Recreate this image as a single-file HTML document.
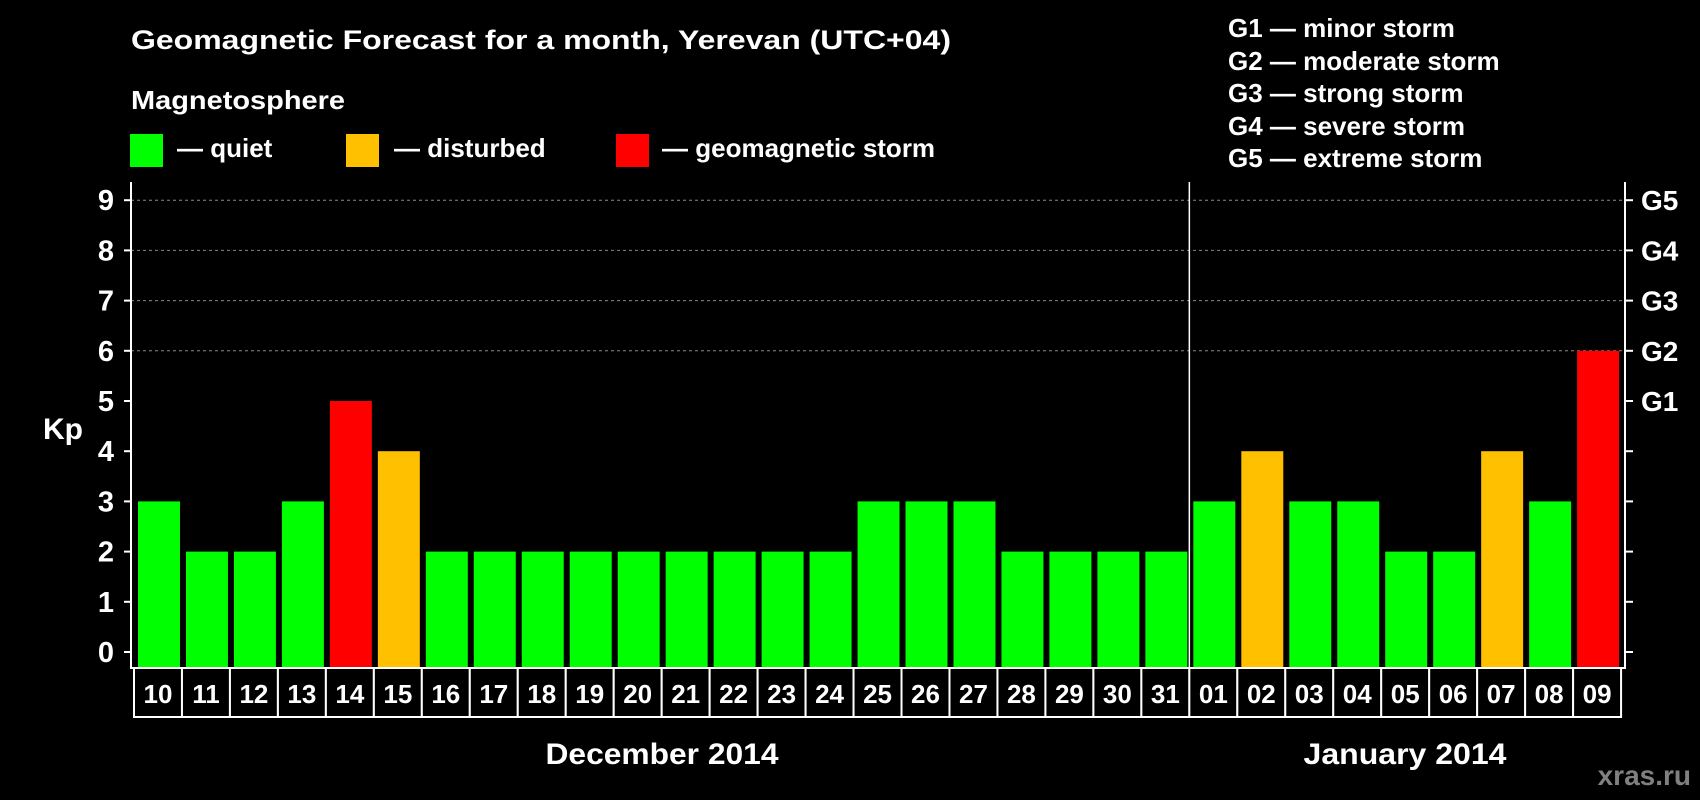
<!DOCTYPE html>
<html><head><meta charset="utf-8">
<style>
html,body{margin:0;padding:0;background:#000;}
svg{display:block;font-family:"Liberation Sans",Arial,sans-serif;font-weight:bold;}
</style></head>
<body>
<svg id="chart" width="1700" height="800" viewBox="0 0 1700 800">
<rect width="1700" height="800" fill="#000"/>
<text x="131" y="49" fill="#fff" font-size="27" textLength="820" lengthAdjust="spacingAndGlyphs">Geomagnetic Forecast for a month, Yerevan (UTC+04)</text>
<text x="131" y="109" fill="#fff" font-size="26" textLength="214" lengthAdjust="spacingAndGlyphs">Magnetosphere</text>
<g>
<rect x="130" y="134" width="33" height="33" fill="#00ff00"/>
<text x="177" y="157" fill="#fff" font-size="26">— quiet</text></g>
<g>
<rect x="346" y="134" width="33" height="33" fill="#ffc000"/>
<text x="394" y="157" fill="#fff" font-size="26">— disturbed</text></g>
<g>
<rect x="616" y="134" width="33" height="33" fill="#ff0000"/>
<text x="662" y="157" fill="#fff" font-size="26">— geomagnetic storm</text></g>
<g font-size="26" fill="#fff">
<text x="1228" y="37">G1 — minor storm</text>
<text x="1228" y="70">G2 — moderate storm</text>
<text x="1228" y="102">G3 — strong storm</text>
<text x="1228" y="135">G4 — severe storm</text>
<text x="1228" y="167">G5 — extreme storm</text>
</g>
<text x="43" y="439" fill="#fff" font-size="30">Kp</text>
<text x="662" y="764" fill="#fff" font-size="30" text-anchor="middle" textLength="233" lengthAdjust="spacingAndGlyphs">December 2014</text>
<text x="1405" y="764" fill="#fff" font-size="30" text-anchor="middle" textLength="203" lengthAdjust="spacingAndGlyphs">January 2014</text>
<text x="1691" y="785" fill="#808080" font-size="28" text-anchor="end">xras.ru</text>
<g id="plot"></g>
</svg>
<script>
const days = ["10","11","12","13","14","15","16","17","18","19","20","21","22","23","24","25","26","27","28","29","30","31","01","02","03","04","05","06","07","08","09"];
const kpValues = [3,2,2,3,5,4,2,2,2,2,2,2,2,2,2,3,3,3,2,2,2,2,3,4,3,3,2,2,4,3,6];
const yTicks = [0,1,2,3,4,5,6,7,8,9];
const gLabels = ["","","","","","G1","G2","G3","G4","G5"];
const monthBreakIndex = 22;

(function () {
const NS = "http://www.w3.org/2000/svg";
const plotG = document.getElementById("plot");
const pL = 131, pR = 1625, pT = 182, pB = 668;
const boxLeft = 134, dayW = 47.97;
const y0 = 652, unit = 50.2;
const yS = v => y0 - v * unit;
const xS = i => boxLeft + i * dayW;
function mk(tag, attrs) {
  const e = document.createElementNS(NS, tag);
  for (const k in attrs) e.setAttribute(k, attrs[k]);
  plotG.appendChild(e);
  return e;
}
yTicks.forEach(v => {
  if (v >= 6) {
    const g = mk("line", {x1: pL, x2: pR, y1: yS(v), y2: yS(v), stroke: "#888", "stroke-dasharray": "3,3", "stroke-width": 1});
    
    
  }
});
kpValues.forEach((v, i) => {
  const col = v >= 5 ? "#ff0000" : (v >= 4 ? "#ffc000" : "#00ff00");
  const b = mk("rect", {x: xS(i) + 4, y: yS(v), width: dayW - 6, height: pB - yS(v), fill: col});
  
  
});
const ax = mk("path", {d: `M${pL},${pT} L${pL},${pB} L${pR},${pB} L${pR},${pT}`, fill: "none", stroke: "#fff", "stroke-width": 2});


const sep = mk("line", {x1: xS(monthBreakIndex), x2: xS(monthBreakIndex), y1: pT, y2: pB, stroke: "#fff", "stroke-width": 1.5});


yTicks.forEach((v, k) => {
  const t1 = mk("line", {x1: pL - 7, x2: pL, y1: yS(v), y2: yS(v), stroke: "#fff", "stroke-width": 2});
  
  
  const t2 = mk("line", {x1: pR, x2: pR + 8, y1: yS(v), y2: yS(v), stroke: "#fff", "stroke-width": 2});
  
  
  const l = mk("text", {x: 114, y: yS(v) + 10, fill: "#fff", "font-size": 29, "text-anchor": "end"});
  l.textContent = v;
  
  
  if (gLabels[k]) {
    const g = mk("text", {x: 1641, y: yS(v) + 10, fill: "#fff", "font-size": 28});
    g.textContent = gLabels[k];
    
    
  }
});
days.forEach((d, i) => {
  const r = mk("rect", {x: xS(i), y: pB, width: dayW, height: 49, fill: "#000", stroke: "#fff", "stroke-width": 2});
  
  
  const t = mk("text", {x: xS(i) + dayW / 2, y: pB + 35, fill: "#fff", "font-size": 26, "text-anchor": "middle"});
  t.textContent = d;
  
  
});
})();
</script>
</body></html>
